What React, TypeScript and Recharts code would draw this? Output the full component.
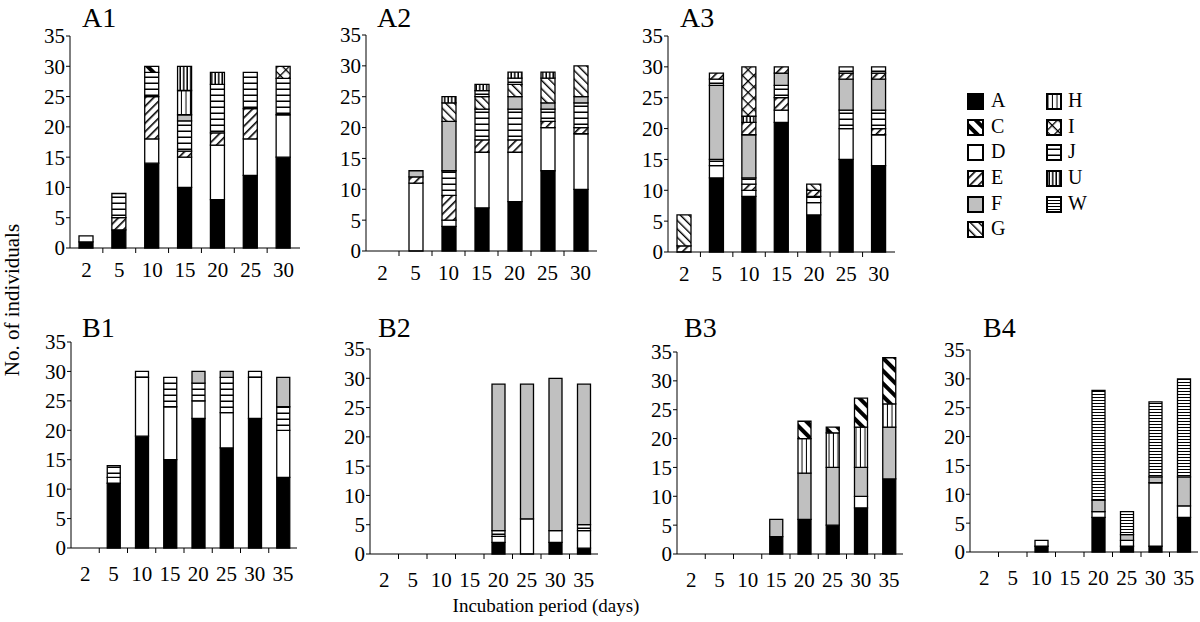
import React from 'react'
import { BarChart, Bar, XAxis, YAxis, Cell } from 'recharts'

type Seg = [string, number]

const daysA = ['2', '5', '10', '15', '20', '25', '30']
const daysB = ['2', '5', '10', '15', '20', '25', '30', '35']
const yTicks = [0, 5, 10, 15, 20, 25, 30, 35]

// each bar = list of [taxon, count] from the bottom up
const a1: Seg[][] = [
  [['A', 1], ['D', 1]],
  [['A', 3], ['E', 2], ['J', 4]],
  [['A', 14], ['D', 4], ['E', 7], ['J', 4], ['C', 1]],
  [['A', 10], ['D', 5], ['E', 1], ['J', 5], ['F', 1], ['H', 4], ['U', 4]],
  [['A', 8], ['D', 9], ['E', 2], ['J', 8], ['U', 2]],
  [['A', 12], ['D', 6], ['E', 5], ['J', 6]],
  [['A', 15], ['D', 7], ['J', 6], ['I', 2]],
]

const a2: Seg[][] = [
  [],
  [['D', 11], ['E', 1], ['F', 1]],
  [['A', 4], ['D', 1], ['E', 4], ['J', 4], ['F', 8], ['G', 3], ['U', 1]],
  [['A', 7], ['D', 9], ['E', 2], ['J', 5], ['G', 2], ['J', 1], ['U', 1]],
  [['A', 8], ['D', 8], ['E', 2], ['J', 5], ['F', 2], ['G', 2], ['J', 1], ['U', 1]],
  [['A', 13], ['D', 7], ['E', 1], ['J', 2], ['F', 1], ['G', 4], ['U', 1]],
  [['A', 10], ['D', 9], ['E', 1], ['J', 4], ['F', 1], ['G', 5]],
]

const a3: Seg[][] = [
  [['E', 1], ['G', 5]],
  [['A', 12], ['D', 2], ['J', 1], ['F', 12], ['J', 1], ['E', 1]],
  [['A', 9], ['D', 1], ['E', 1], ['J', 1], ['F', 7], ['E', 2], ['U', 1], ['I', 8]],
  [['A', 21], ['D', 2], ['E', 2], ['J', 2], ['F', 2], ['E', 1]],
  [['A', 6], ['D', 2], ['J', 1], ['E', 1], ['G', 1]],
  [['A', 15], ['D', 5], ['J', 3], ['F', 5], ['E', 1], ['J', 1]],
  [['A', 14], ['D', 5], ['E', 1], ['J', 3], ['F', 5], ['E', 1], ['J', 1]],
]

const b1: Seg[][] = [
  [],
  [['A', 11], ['D', 1], ['J', 2]],
  [['A', 19], ['D', 10], ['J', 1]],
  [['A', 15], ['D', 9], ['J', 5]],
  [['A', 22], ['D', 3], ['J', 3], ['F', 2]],
  [['A', 17], ['D', 6], ['J', 6], ['F', 1]],
  [['A', 22], ['D', 7], ['J', 1]],
  [['A', 12], ['D', 8], ['J', 4], ['F', 5]],
]

const b2: Seg[][] = [
  [], [], [], [],
  [['A', 2], ['D', 1], ['J', 1], ['F', 25]],
  [['D', 6], ['F', 23]],
  [['A', 2], ['D', 2], ['F', 26]],
  [['A', 1], ['D', 3], ['J', 1], ['F', 24]],
]

const b3: Seg[][] = [
  [], [], [],
  [['A', 3], ['F', 3]],
  [['A', 6], ['F', 8], ['H', 6], ['C', 3]],
  [['A', 5], ['F', 10], ['H', 6], ['C', 1]],
  [['A', 8], ['D', 2], ['F', 5], ['H', 7], ['C', 5]],
  [['A', 13], ['F', 9], ['H', 4], ['C', 8]],
]

const b4: Seg[][] = [
  [], [],
  [['A', 1], ['D', 1]],
  [],
  [['A', 6], ['D', 1], ['F', 2], ['W', 19]],
  [['A', 1], ['D', 1], ['F', 1], ['W', 4]],
  [['A', 1], ['D', 11], ['F', 1], ['W', 13]],
  [['A', 6], ['D', 2], ['F', 5], ['W', 17]],
]

const legendLeft = ['A', 'C', 'D', 'E', 'F', 'G']
const legendRight = ['H', 'I', 'J', 'U', 'W']

const FILL: Record<string, string> = {
  A: '#000',
  C: 'url(#pC)',
  D: '#fff',
  E: 'url(#pE)',
  F: '#c0c0c0',
  G: 'url(#pG)',
  H: 'url(#pH)',
  I: 'url(#pI)',
  J: 'url(#pJ)',
  U: 'url(#pU)',
  W: 'url(#pW)',
}

const LAYERS = [0, 1, 2, 3, 4, 5, 6, 7]
const FONT = '"Liberation Serif", "Times New Roman", serif'
const TOP = 18

const panels = [
  { title: 'A1', days: daysA, stacks: a1, pl: 70, pr: 300, pt: 36, pb: 248, tx: 82, ty: 27, bar: 14, dy: 29 },
  { title: 'A2', days: daysA, stacks: a2, pl: 366, pr: 597, pt: 35, pb: 251, tx: 377, ty: 27, bar: 14, dy: 29 },
  { title: 'A3', days: daysA, stacks: a3, pl: 668, pr: 895, pt: 36, pb: 252, tx: 680, ty: 27, bar: 14, dy: 29 },
  { title: 'B1', days: daysB, stacks: b1, pl: 71, pr: 297, pt: 342, pb: 548, tx: 82, ty: 337, bar: 13, dy: 33 },
  { title: 'B2', days: daysB, stacks: b2, pl: 370, pr: 598, pt: 349, pb: 554, tx: 378, ty: 337, bar: 13, dy: 33 },
  { title: 'B3', days: daysB, stacks: b3, pl: 677, pr: 903, pt: 352, pb: 554, tx: 684, ty: 337, bar: 13, dy: 33 },
  { title: 'B4', days: daysB, stacks: b4, pl: 970, pr: 1198, pt: 350, pb: 552, tx: 983, ty: 337, bar: 13, dy: 33 },
]

function toRows(days: string[], stacks: Seg[][]) {
  return days.map((d, i) => {
    const row: Record<string, string | number> = { day: d }
    stacks[i].forEach(([sp, n], k) => {
      row['s' + k] = n
      row['f' + k] = sp
    })
    return row
  })
}

function Panel({ p }: { p: (typeof panels)[number] }) {
  const rows = toRows(p.days, p.stacks)
  const plotW = p.pr - p.pl
  const plotH = p.pb - p.pt
  const step = plotW / p.days.length
  return (
    <div style={{ position: 'absolute', left: p.pl - 50, top: p.pt - TOP }}>
      <BarChart
        width={plotW + 52}
        height={plotH + TOP + 50}
        data={rows}
        margin={{ top: TOP, right: 2, left: 0, bottom: 0 }}
        barSize={p.bar}
        style={{ overflow: 'visible' }}
      >
        <XAxis
          dataKey="day"
          interval={0}
          height={50}
          tickLine={false}
          tickSize={0}
          tickMargin={0}
          axisLine={{ stroke: '#000', strokeWidth: 1 }}
          tick={(t: any) => (
            <g>
              {t.index > 0 && (
                <line x1={t.x - step / 2} x2={t.x - step / 2} y1={t.y} y2={t.y + 5} stroke="#000" />
              )}
              <text x={t.x} y={t.y + p.dy} textAnchor="middle" fontSize={21} fontFamily={FONT} fill="#000">
                {t.payload.value}
              </text>
            </g>
          )}
        />
        <YAxis
          width={50}
          domain={[0, 35]}
          ticks={yTicks}
          interval={0}
          tickSize={4}
          tickMargin={1}
          axisLine={{ stroke: '#000', strokeWidth: 1 }}
          tickLine={{ stroke: '#000' }}
          tick={{ fontSize: 21, fontFamily: FONT, fill: '#000' }}
        />
        {LAYERS.map((k) => (
          <Bar
            key={k}
            dataKey={'s' + k}
            stackId="a"
            stroke="#000"
            strokeWidth={1.3}
            isAnimationActive={false}
          >
            {rows.map((r, i) => (
              <Cell key={i} fill={FILL[r['f' + k] as string] ?? 'none'} />
            ))}
          </Bar>
        ))}
      </BarChart>
    </div>
  )
}

function Patterns() {
  return (
    <defs>
      <pattern id="pC" width="9" height="9" patternUnits="userSpaceOnUse" patternTransform="rotate(-45)">
        <rect width="9" height="9" fill="#fff" />
        <rect width="4" height="9" fill="#000" />
      </pattern>
      <pattern id="pE" width="6" height="6" patternUnits="userSpaceOnUse" patternTransform="rotate(45)">
        <rect width="6" height="6" fill="#fff" />
        <rect width="1.6" height="6" fill="#000" />
      </pattern>
      <pattern id="pG" width="6" height="6" patternUnits="userSpaceOnUse" patternTransform="rotate(-45)">
        <rect width="6" height="6" fill="#fff" />
        <rect width="1.4" height="6" fill="#000" />
      </pattern>
      <pattern id="pI" width="8" height="8" patternUnits="userSpaceOnUse" patternTransform="rotate(45)">
        <rect width="8" height="8" fill="#fff" />
        <rect width="1.3" height="8" fill="#000" />
        <rect width="8" height="1.3" fill="#000" />
      </pattern>
      <pattern id="pH" width="4.5" height="4" patternUnits="userSpaceOnUse">
        <rect width="4.5" height="4" fill="#fff" />
        <rect x="3.5" width="1" height="4" fill="#000" />
      </pattern>
      <pattern id="pU" width="3.5" height="4" patternUnits="userSpaceOnUse">
        <rect width="3.5" height="4" fill="#fff" />
        <rect x="2" width="1.5" height="4" fill="#000" />
      </pattern>
      <pattern id="pJ" width="4" height="6" patternUnits="userSpaceOnUse">
        <rect width="4" height="6" fill="#fff" />
        <rect y="4.5" width="4" height="1.5" fill="#000" />
      </pattern>
      <pattern id="pW" width="4" height="3" patternUnits="userSpaceOnUse">
        <rect width="4" height="3" fill="#fff" />
        <rect y="2" width="4" height="1" fill="#000" />
      </pattern>
    </defs>
  )
}

export default function App() {
  const rowTop = [94, 120, 145, 171, 197, 222]
  return (
    <div style={{ position: 'absolute', left: 0, top: 0, width: 1200, height: 622, background: '#fff' }}>
      <svg width={1200} height={622} style={{ position: 'absolute', left: 0, top: 0 }}>
        <Patterns />
        {panels.map((p) => (
          <text key={p.title} x={p.tx} y={p.ty} fontSize={28} fontFamily={FONT} fill="#000">
            {p.title}
          </text>
        ))}
        <text
          x={12}
          y={300}
          transform="rotate(-90 12 300)"
          textAnchor="middle"
          dominantBaseline="central"
          fontSize={21}
          fontFamily={FONT}
          fill="#000"
        >
          No. of individuals
        </text>
        <text x={546} y={612} textAnchor="middle" fontSize={19} fontFamily={FONT} fill="#000">
          Incubation period (days)
        </text>
        {legendLeft.map((sp, i) => (
          <g key={sp}>
            <rect x={968} y={rowTop[i]} width={15} height={15} fill={FILL[sp]} stroke="#000" strokeWidth={2} />
            <text x={991} y={rowTop[i] + 13} fontSize={20} fontFamily={FONT} fill="#000">
              {sp}
            </text>
          </g>
        ))}
        {legendRight.map((sp, i) => (
          <g key={sp}>
            <rect x={1047} y={rowTop[i]} width={14} height={15} fill={FILL[sp]} stroke="#000" strokeWidth={2} />
            <text x={1068} y={rowTop[i] + 13} fontSize={20} fontFamily={FONT} fill="#000">
              {sp}
            </text>
          </g>
        ))}
      </svg>
      {panels.map((p) => (
        <Panel key={p.title} p={p} />
      ))}
    </div>
  )
}
